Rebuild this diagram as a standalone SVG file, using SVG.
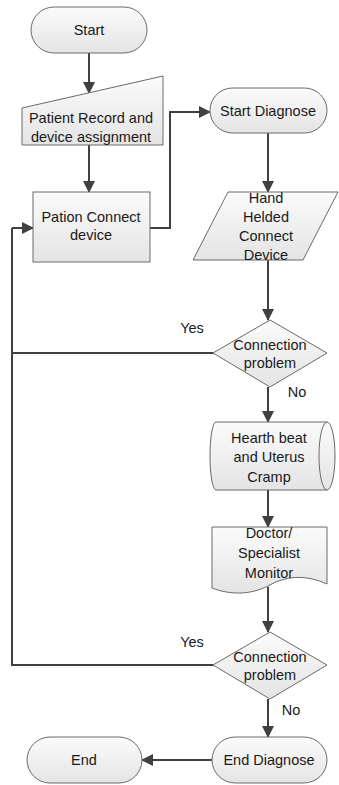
<svg xmlns="http://www.w3.org/2000/svg" width="339" height="785" viewBox="0 0 339 785">
<defs>
<linearGradient id="g" x1="0" y1="0" x2="0" y2="1">
<stop offset="0" stop-color="#fbfbfb"/>
<stop offset="1" stop-color="#e4e4e4"/>
</linearGradient>
<marker id="ah" markerWidth="12" markerHeight="12" refX="11" refY="6" orient="auto" markerUnits="userSpaceOnUse">
<path d="M0,0 L12,6 L0,12 Z" fill="#404040"/>
</marker>
</defs>
<style>
.s{fill:url(#g);stroke:#6a6a6a;stroke-width:1}
.t{font-family:"Liberation Sans",Arial,sans-serif;font-size:14.5px;fill:#1a1a1a;text-anchor:middle}
.c{fill:none;stroke:#404040;stroke-width:2}
.ca{fill:none;stroke:#404040;stroke-width:2;marker-end:url(#ah)}
</style>
<rect width="339" height="785" fill="#ffffff"/>
<g id="connectors">
<path class="ca" d="M89,53 V93"/>
<path class="ca" d="M89,145 V192"/>
<path class="ca" d="M150,228 H170 V112 H210"/>
<path class="ca" d="M268,133 V192"/>
<path class="ca" d="M268,260 V320"/>
<path class="c" d="M213,353 H12 V228"/>
<path class="ca" d="M12,228 H33"/>
<path class="ca" d="M268,387 V422"/>
<path class="ca" d="M268,490 V527"/>
<path class="ca" d="M268,587 V632"/>
<path class="c" d="M213,665 H12 V353"/>
<path class="ca" d="M268,699 V737"/>
<path class="ca" d="M212,760 H142"/>
<text class="t" x="192" y="333">Yes</text>
<text class="t" x="297" y="397">No</text>
<text class="t" x="192" y="647">Yes</text>
<text class="t" x="291" y="715">No</text>
</g>
<g id="start">
<rect class="s" x="31" y="7" width="116" height="46" rx="23" ry="23"/>
<text class="t" x="89" y="35">Start</text>
</g>
<g id="patient-record">
<path class="s" d="M22,108 L163,76 V145 H22 Z"/>
<text class="t" x="91" y="123">Patient Record and</text>
<text class="t" x="91" y="142">device assignment</text>
</g>
<g id="pation-connect">
<rect class="s" x="33" y="192" width="117" height="70"/>
<text class="t" x="91" y="222">Pation Connect</text>
<text class="t" x="91" y="240">device</text>
</g>
<g id="start-diagnose">
<rect class="s" x="210" y="88" width="117" height="45" rx="22.5" ry="22.5"/>
<text class="t" x="268" y="116">Start Diagnose</text>
</g>
<g id="hand-helded">
<path class="s" d="M228,192 H338 L303,260 H193 Z"/>
<text class="t" x="266" y="203">Hand</text>
<text class="t" x="266" y="222">Helded</text>
<text class="t" x="266" y="241">Connect</text>
<text class="t" x="266" y="260">Device</text>
</g>
<g id="decision1">
<path class="s" d="M270,320 L327,353 L270,387 L213,353 Z"/>
<text class="t" x="270" y="350">Connection</text>
<text class="t" x="270" y="368">problem</text>
</g>
<g id="hearth-beat">
<path class="s" d="M216,422 H327 A8,34 0 0 1 327,490 H216 A6,34 0 0 1 216,422 Z"/>
<path fill="none" stroke="#6a6a6a" stroke-width="1" d="M327,422 A8,34 0 0 0 327,490"/>
<text class="t" x="269" y="443">Hearth beat</text>
<text class="t" x="269" y="462">and Uterus</text>
<text class="t" x="269" y="482">Cramp</text>
</g>
<g id="doctor">
<path class="s" d="M212,527 H327 V584 C305,574 285,576 268,586 C250,595 230,595 212,588 Z"/>
<text class="t" x="269" y="538">Doctor/</text>
<text class="t" x="269" y="558">Specialist</text>
<text class="t" x="269" y="578">Monitor</text>
</g>
<g id="decision2">
<path class="s" d="M270,632 L327,665 L270,699 L213,665 Z"/>
<text class="t" x="270" y="662">Connection</text>
<text class="t" x="270" y="680">problem</text>
</g>
<g id="end-diagnose">
<rect class="s" x="212" y="737" width="115" height="46" rx="23" ry="23"/>
<text class="t" x="269" y="765">End Diagnose</text>
</g>
<g id="end">
<rect class="s" x="27" y="737" width="115" height="46" rx="23" ry="23"/>
<text class="t" x="84" y="765">End</text>
</g>
</svg>
